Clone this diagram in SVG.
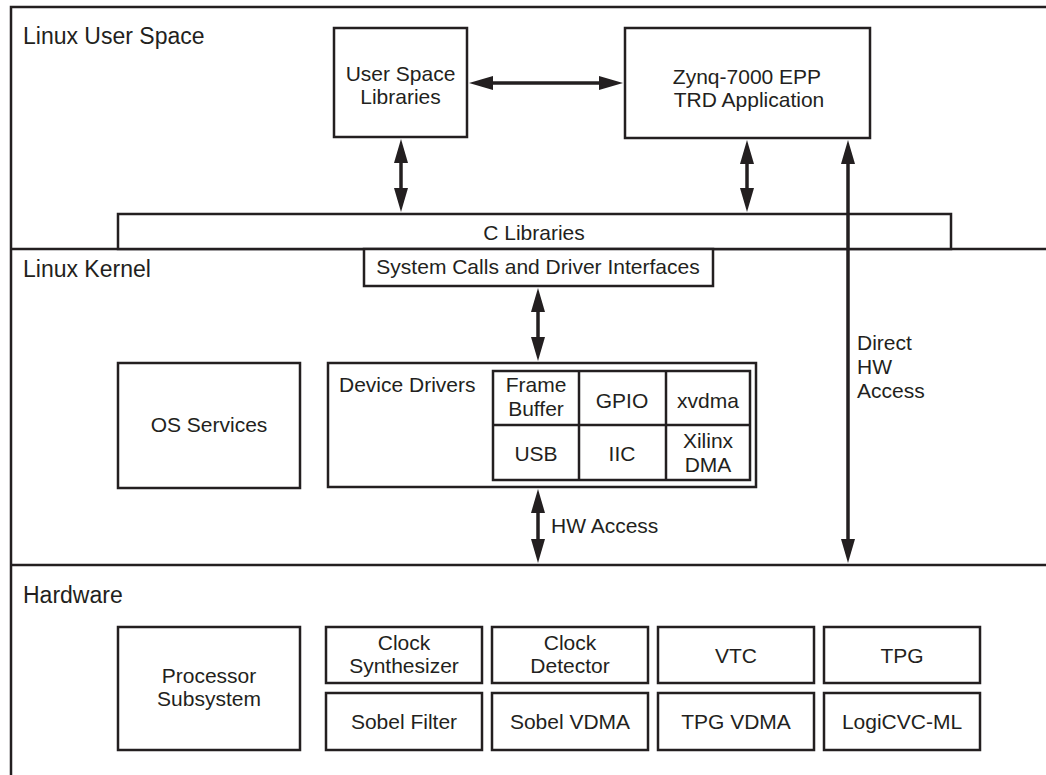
<svg xmlns="http://www.w3.org/2000/svg" width="1046" height="775" viewBox="0 0 1046 775">
  <style>
    .frame { fill: none; stroke: #231f20; stroke-width: 2.5; }
    .box { fill: #ffffff; stroke: #231f20; stroke-width: 2.5; }
    .cell { fill: none; stroke: #231f20; stroke-width: 2.5; }
    .wire { fill: none; stroke: #231f20; stroke-width: 3.5; }
    text { font-family: "Liberation Sans", Arial, Helvetica, sans-serif; fill: #231f20; font-size: 21px; }
    .title { font-size: 23px; }
    .c { text-anchor: middle; }
  </style>
  <defs>
    <marker id="head" markerUnits="userSpaceOnUse" markerWidth="24" markerHeight="14" refX="0" refY="7" orient="auto-start-reverse" viewBox="0 0 24 14">
      <path d="M0,0 L24,7 L0,14 Z" fill="#231f20"/>
    </marker>
  </defs>

  <rect width="1046" height="775" fill="#ffffff"/>

  <!-- layer frame and dividers -->
  <g id="layers">
    <path class="frame" d="M1050,7 H11 V780"/>
    <line class="frame" x1="11" y1="249" x2="1050" y2="249"/>
    <line class="frame" x1="11" y1="565" x2="1050" y2="565"/>
    <text class="title" x="23" y="44">Linux User Space</text>
    <text class="title" x="23" y="277">Linux Kernel</text>
    <text class="title" x="23" y="603">Hardware</text>
  </g>

  <!-- user space -->
  <g id="user-space-libraries">
    <rect class="box" x="334" y="28" width="133" height="109"/>
    <text class="c" x="400.5" y="81">User Space</text>
    <text class="c" x="400.5" y="104">Libraries</text>
  </g>
  <g id="trd-application">
    <rect class="box" x="625" y="28" width="245" height="110"/>
    <text class="c" x="747" y="84">Zynq-7000 EPP</text>
    <text class="c" x="749" y="107">TRD Application</text>
  </g>
  <g id="c-libraries">
    <rect class="box" x="118" y="214" width="833" height="35"/>
    <text class="c" x="534" y="240">C Libraries</text>
  </g>

  <!-- kernel -->
  <g id="system-calls">
    <rect class="box" x="364" y="249" width="349" height="37"/>
    <text class="c" x="538" y="274">System Calls and Driver Interfaces</text>
  </g>
  <g id="os-services">
    <rect class="box" x="118" y="363" width="182" height="125"/>
    <text class="c" x="209" y="432">OS Services</text>
  </g>
  <g id="device-drivers">
    <rect class="box" x="328" y="363" width="428" height="124"/>
    <text x="339" y="392">Device Drivers</text>
    <rect class="cell" x="493" y="371" width="257" height="109"/>
    <line class="cell" x1="579" y1="371" x2="579" y2="480"/>
    <line class="cell" x1="666" y1="371" x2="666" y2="480"/>
    <line class="cell" x1="493" y1="425" x2="750" y2="425"/>
    <text class="c" x="536" y="392">Frame</text>
    <text class="c" x="536" y="416">Buffer</text>
    <text class="c" x="622" y="408">GPIO</text>
    <text class="c" x="708" y="408">xvdma</text>
    <text class="c" x="536" y="461">USB</text>
    <text class="c" x="622" y="461">IIC</text>
    <text class="c" x="708" y="448">Xilinx</text>
    <text class="c" x="708" y="472">DMA</text>
  </g>

  <!-- hardware -->
  <g id="processor-subsystem">
    <rect class="box" x="118" y="627" width="182" height="123"/>
    <text class="c" x="209" y="683">Processor</text>
    <text class="c" x="209" y="706">Subsystem</text>
  </g>
  <g id="clock-synthesizer">
    <rect class="box" x="326" y="627" width="156" height="56"/>
    <text class="c" x="404" y="650">Clock</text>
    <text class="c" x="404" y="673">Synthesizer</text>
  </g>
  <g id="clock-detector">
    <rect class="box" x="492" y="627" width="156" height="56"/>
    <text class="c" x="570" y="650">Clock</text>
    <text class="c" x="570" y="673">Detector</text>
  </g>
  <g id="vtc">
    <rect class="box" x="658" y="627" width="156" height="56"/>
    <text class="c" x="736" y="663">VTC</text>
  </g>
  <g id="tpg">
    <rect class="box" x="824" y="627" width="156" height="56"/>
    <text class="c" x="902" y="663">TPG</text>
  </g>
  <g id="sobel-filter">
    <rect class="box" x="326" y="693" width="156" height="57"/>
    <text class="c" x="404" y="729">Sobel Filter</text>
  </g>
  <g id="sobel-vdma">
    <rect class="box" x="492" y="693" width="156" height="57"/>
    <text class="c" x="570" y="729">Sobel VDMA</text>
  </g>
  <g id="tpg-vdma">
    <rect class="box" x="658" y="693" width="156" height="57"/>
    <text class="c" x="736" y="729">TPG VDMA</text>
  </g>
  <g id="logicvc-ml">
    <rect class="box" x="824" y="693" width="156" height="57"/>
    <text class="c" x="902" y="729">LogiCVC-ML</text>
  </g>

  <!-- connectors -->
  <g id="connectors">
    <line class="wire" x1="493" y1="83" x2="599" y2="83" marker-start="url(#head)" marker-end="url(#head)"/>
    <line class="wire" x1="401" y1="163" x2="401" y2="188" marker-start="url(#head)" marker-end="url(#head)"/>
    <line class="wire" x1="747" y1="164" x2="747" y2="188" marker-start="url(#head)" marker-end="url(#head)"/>
    <line class="wire" x1="538" y1="312" x2="538" y2="337" marker-start="url(#head)" marker-end="url(#head)"/>
    <line class="wire" x1="538" y1="513" x2="538" y2="539" marker-start="url(#head)" marker-end="url(#head)"/>
    <line class="wire" x1="848" y1="164" x2="848" y2="539" marker-start="url(#head)" marker-end="url(#head)"/>
    <text x="551" y="533">HW Access</text>
    <text x="857" y="350">Direct</text>
    <text x="857" y="374">HW</text>
    <text x="857" y="398">Access</text>
  </g>
</svg>
